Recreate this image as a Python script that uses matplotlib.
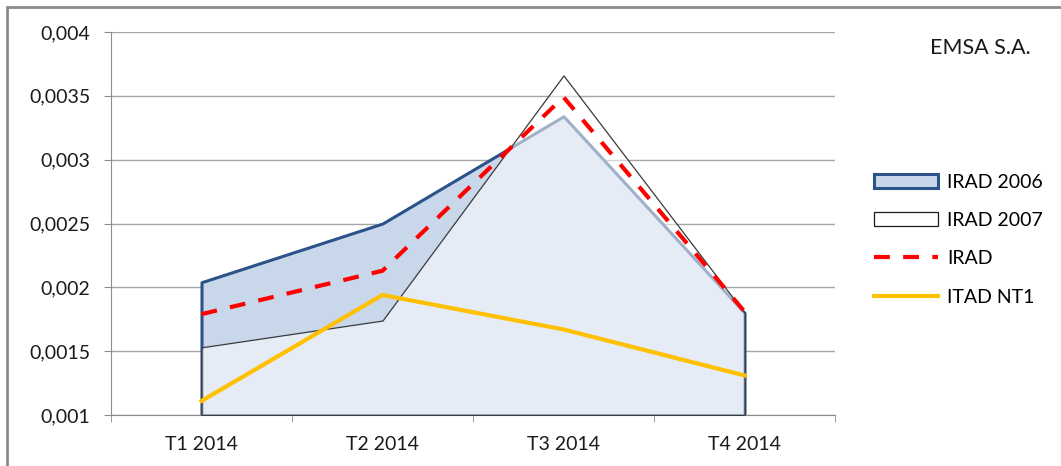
import numpy as np
import matplotlib.pyplot as plt
from matplotlib.patches import Patch, Rectangle
from matplotlib.lines import Line2D

# Data
quarters = ["T1 2014", "T2 2014", "T3 2014", "T4 2014"]
irad_2006 = [0.00204, 0.00250, 0.00334, 0.00180]
irad_2007 = [0.00153, 0.00174, 0.00366, 0.00180]
irad = [0.00179, 0.00213, 0.00349, 0.00181]
itad_nt1 = [0.00111, 0.00194, 0.00167, 0.00131]
y_ticks = [0.001, 0.0015, 0.002, 0.0025, 0.003, 0.0035, 0.004]
y_labels = ["0,001", "0,0015", "0,002", "0,0025", "0,003", "0,0035", "0,004"]

plt.rcParams['font.family'] = ['Lato', 'DejaVu Sans']

fig = plt.figure(figsize=(10.61, 4.66), dpi=100)
ax = fig.add_axes([111 / 1061, 51 / 466, 724 / 1061, 383 / 466])

x = np.arange(len(quarters)) + 0.5
base = y_ticks[0]
red_dash = (3.8, 3.2)

# areas (Excel style: closed polygons down to the baseline)
ax.fill_between(x, irad_2006, base, facecolor="#c9d7ea", edgecolor="#2b5289",
                linewidth=2.2, zorder=2)
ax.fill_between(x, irad_2007, base, facecolor=(1, 1, 1, 0.55), edgecolor="#3a3a3a",
                linewidth=0.9, zorder=3)
ax.plot(x, irad, color="#ff0000", linewidth=3, dashes=red_dash, zorder=4)
ax.plot(x, itad_nt1, color="#ffc000", linewidth=3, zorder=4)

ax.set_xlim(0, 4)
ax.set_ylim(y_ticks[0], y_ticks[-1])
ax.set_yticks(y_ticks)
ax.set_yticklabels(y_labels)
ax.set_xticks(x)
ax.set_xticklabels(quarters)
ax.set_xticks(np.arange(5), minor=True)
ax.tick_params(axis="x", which="major", length=0, pad=15)
ax.tick_params(axis="x", which="minor", length=5, color="#8c8c8c", direction="out")
ax.tick_params(axis="y", length=5, color="#8c8c8c", direction="out", pad=10)
ax.tick_params(labelsize=14, labelcolor="#1a1a1a")
ax.grid(axis="y", color="#a6a6a6", linewidth=1)
ax.set_axisbelow(True)
for s in ["top", "right"]:
    ax.spines[s].set_visible(False)
for s in ["left", "bottom"]:
    ax.spines[s].set_color("#8c8c8c")

# legend
handles = [
    Patch(facecolor="#c9d7ea", edgecolor="#2b5289", linewidth=2.2),
    Patch(facecolor="white", edgecolor="#1a1a1a", linewidth=0.9),
    Line2D([], [], color="#ff0000", linewidth=3, dashes=red_dash),
    Line2D([], [], color="#ffc000", linewidth=3),
]
fig.legend(handles, ["IRAD 2006", "IRAD 2007", "IRAD", "ITAD NT1"],
           loc="upper left", bbox_to_anchor=(856 / 1061, 1 - 156 / 466),
           frameon=False, fontsize=14, handlelength=3.3, handleheight=0.7,
           labelspacing=1.1, handletextpad=0.5)

fig.text(980 / 1061, 1 - 48 / 466, "EMSA S.A.", fontsize=15.5, ha="center",
         va="center", color="#1a1a1a")

# outer chart frame
fig.patches.append(Rectangle((7 / 1061, -0.1), 1.2, 1 - 7 / 466 + 0.1,
                             transform=fig.transFigure, fill=False,
                             edgecolor="#8c8c8c", linewidth=2))

fig.savefig("out.png", dpi=100)
